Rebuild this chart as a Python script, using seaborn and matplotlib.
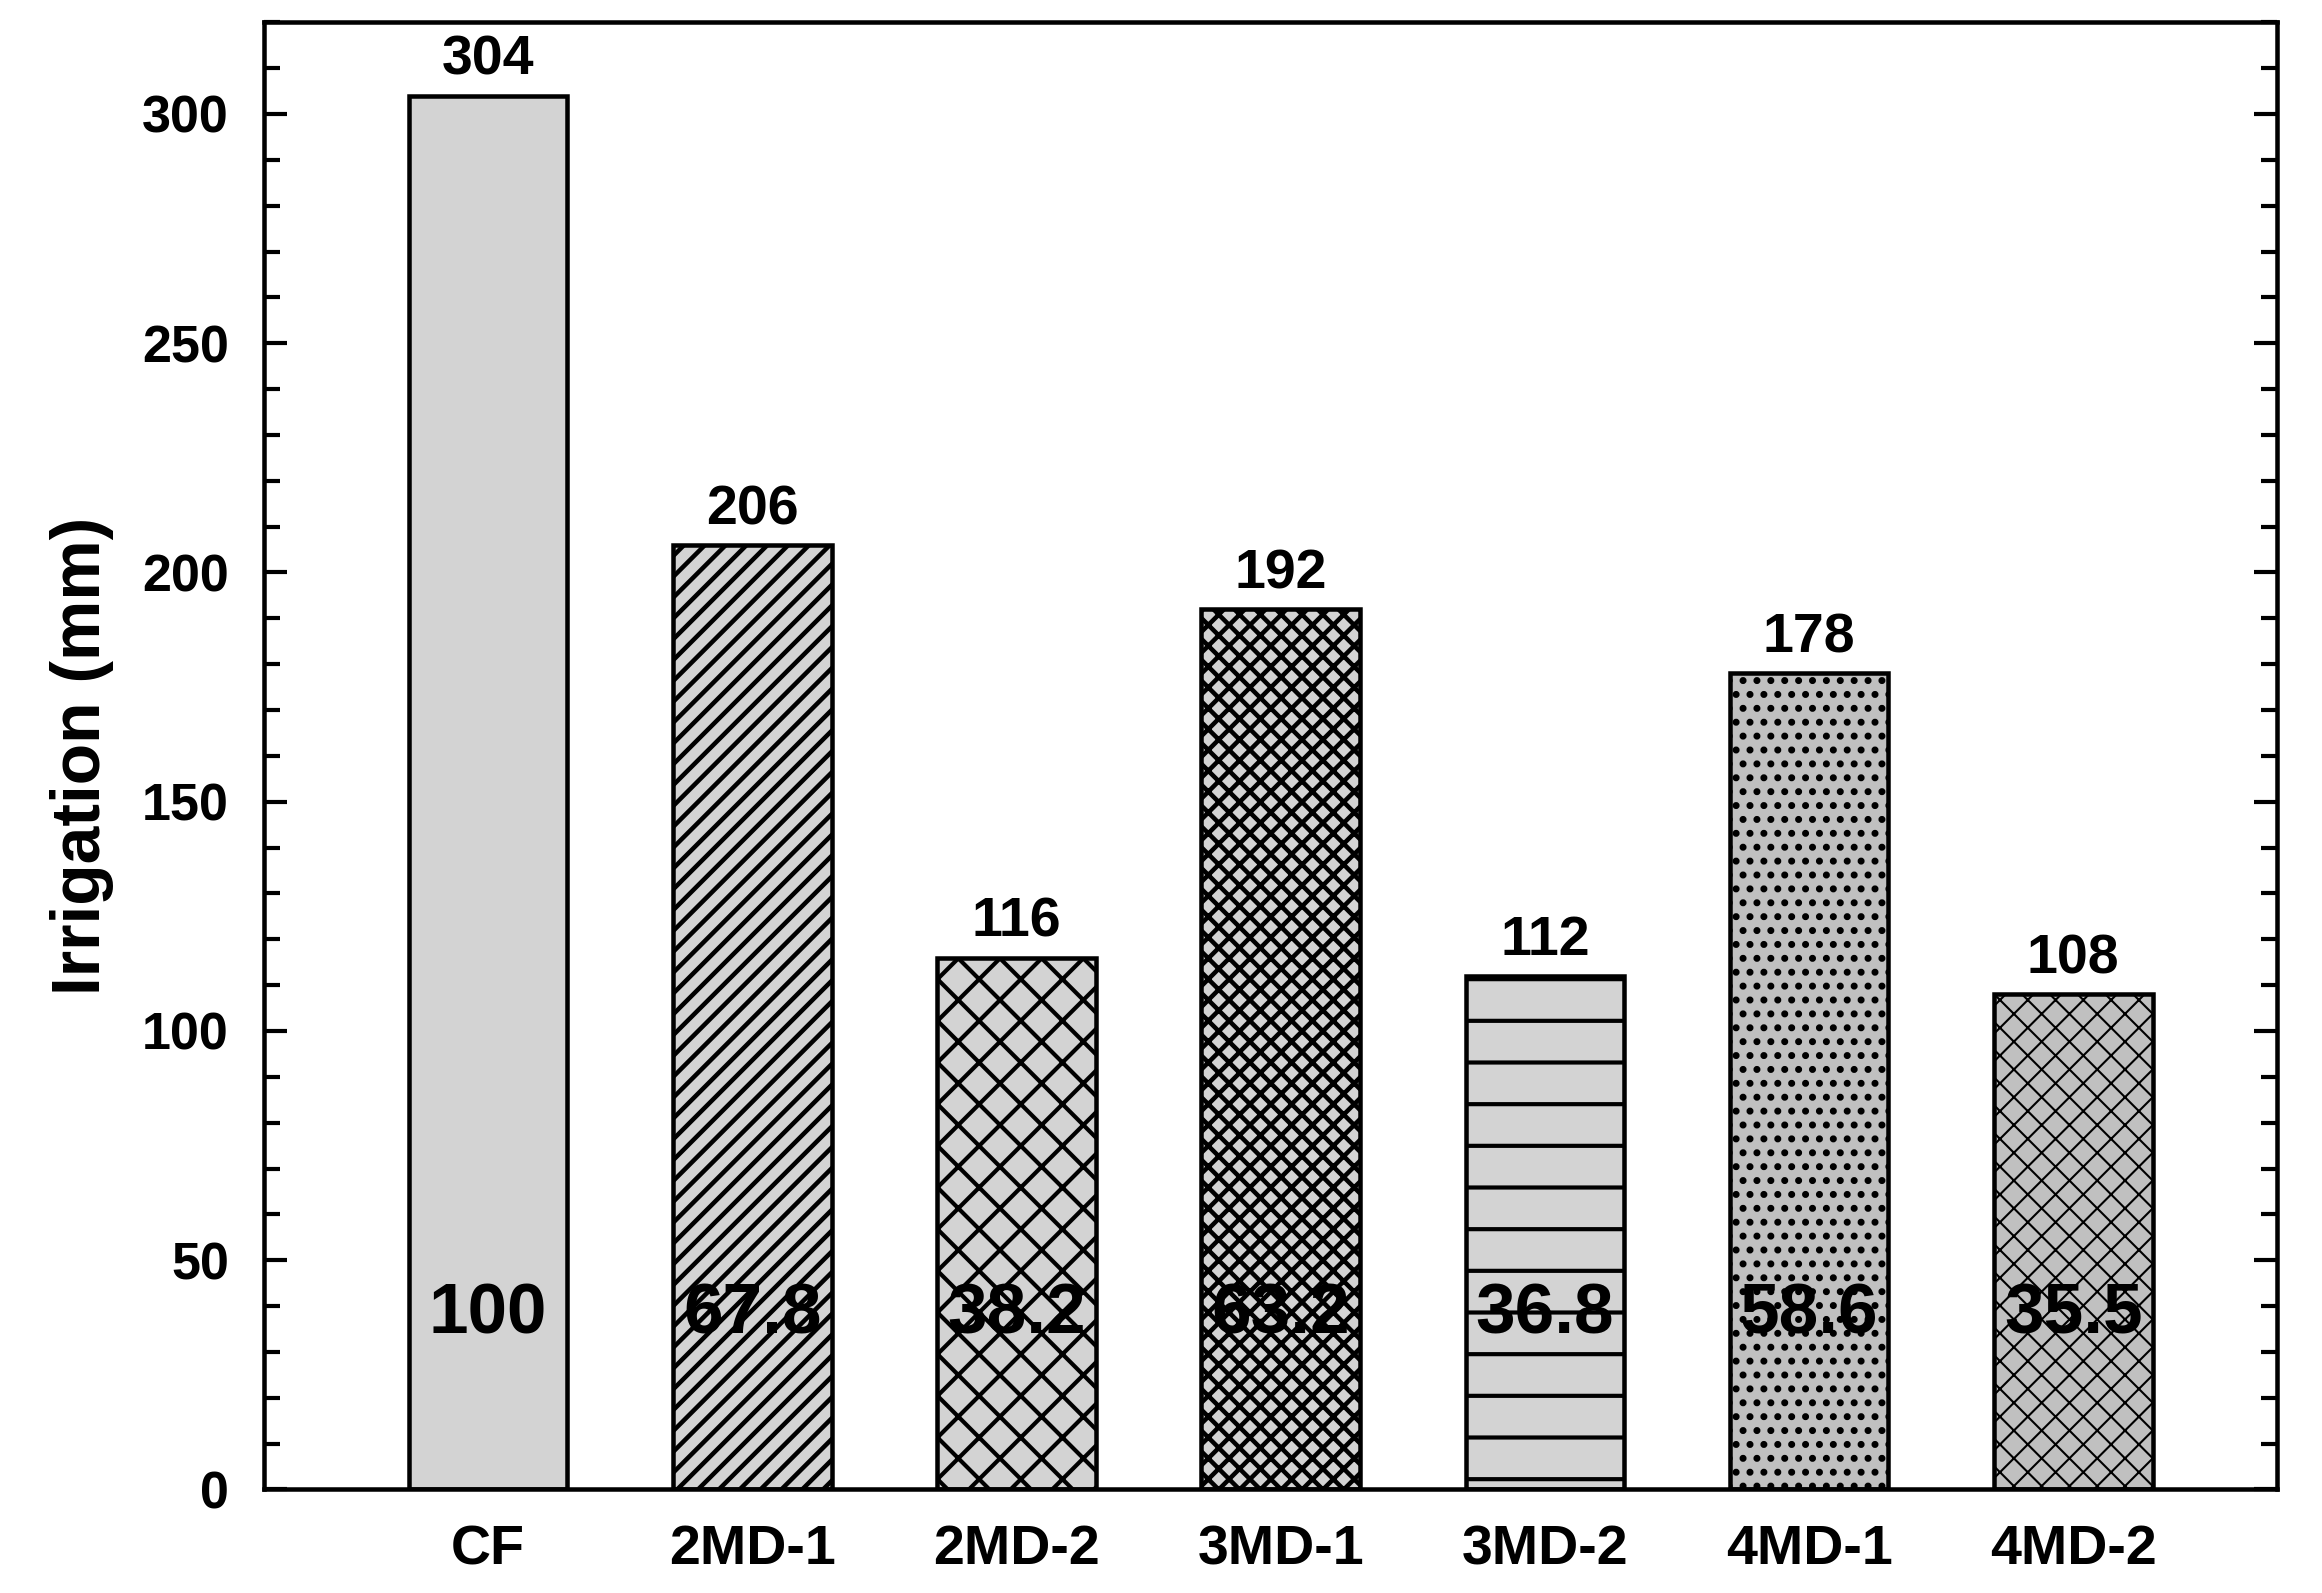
import pandas as pd
import seaborn as sns
import matplotlib.pyplot as plt
from matplotlib.ticker import MultipleLocator

# Data
treatments = ["CF", "2MD-1", "2MD-2", "3MD-1", "3MD-2", "4MD-1", "4MD-2"]
irrigation = [304, 206, 116, 192, 112, 178, 108]
relative = ["100", "67.8", "38.2", "63.2", "36.8", "58.6", "35.5"]

fills = ["#d3d3d3", "#d3d3d3", "#d3d3d3", "#d3d3d3", "#d3d3d3", "#c0c0c0", "#c0c0c0"]
hatches = ["", "////", "xx", "xxxx", "-", "...", "xxx"]
hatch_widths = [1.2, 1.3, 1.2, 1.3, 1.2, 1.2, 0.6]

df = pd.DataFrame({"treatment": treatments, "irrigation": irrigation})

sns.set_style("ticks")
plt.rcParams["font.family"] = ["Liberation Sans Narrow", "Liberation Sans", "DejaVu Sans"]
plt.rcParams["font.weight"] = "bold"
plt.rcParams["text.color"] = "black"
plt.rcParams["axes.labelcolor"] = "black"
plt.rcParams["xtick.color"] = "black"
plt.rcParams["ytick.color"] = "black"
plt.rcParams["hatch.linewidth"] = 1.2
plt.rcParams["hatch.color"] = "black"

dpi = 250
fig = plt.figure(figsize=(2322 / dpi, 1593 / dpi), dpi=dpi)
ax = fig.add_axes([0.1135, 0.065, 0.867, 0.921])

sns.barplot(
    data=df, x="treatment", y="irrigation", hue="treatment",
    palette=fills, width=0.6, edgecolor="black", linewidth=1.3,
    legend=False, saturation=1, ax=ax,
)

for bar, h, hw in zip(ax.patches, hatches, hatch_widths):
    bar.set_hatch(h)
    bar.set_edgecolor("black")
    if hasattr(bar, "set_hatch_linewidth"):
        bar.set_hatch_linewidth(hw)

# value on top, relative percentage inside
for i, (v, r) in enumerate(zip(irrigation, relative)):
    ax.annotate(str(v), (i, v), xytext=(0, 2.5), textcoords="offset points",
                ha="center", va="bottom", fontsize=16, fontweight="bold")
    ax.text(i, 38, r, ha="center", va="center", fontsize=20.5, fontweight="bold")

ax.set_xlim(-0.85, 6.77)
ax.set_ylim(0, 320)
ax.yaxis.set_major_locator(MultipleLocator(50))
ax.yaxis.set_minor_locator(MultipleLocator(10))

for s in ax.spines.values():
    s.set_visible(True)
    s.set_linewidth(1.3)
    s.set_color("black")

ax.tick_params(axis="y", which="both", direction="in", left=True, right=True,
               labelsize=15, pad=10, width=1.2)
ax.tick_params(axis="y", which="major", length=6.5)
ax.tick_params(axis="y", which="minor", length=4.5)
ax.tick_params(axis="x", which="both", bottom=False, top=False, length=0,
               labelsize=16, pad=10)
for lab in ax.get_xticklabels() + ax.get_yticklabels():
    lab.set_fontweight("bold")

ax.set_xlabel("")
ax.set_ylabel("Irrigation (mm)", fontsize=19.5, fontweight="bold", labelpad=8)

fig.savefig("out.png", dpi=dpi)
